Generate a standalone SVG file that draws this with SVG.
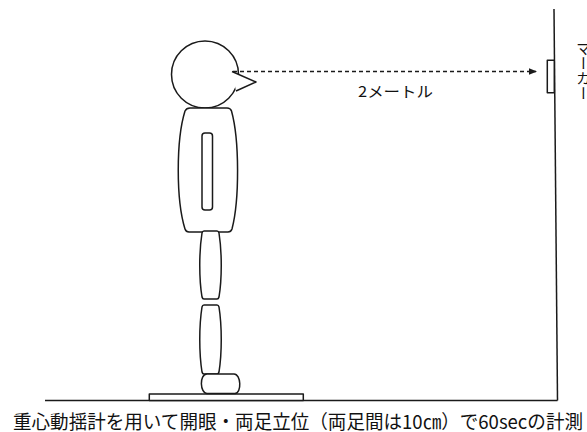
<svg xmlns="http://www.w3.org/2000/svg" width="587" height="432" viewBox="0 0 587 432">
  <defs>
    <style>
      .ln { fill: none; stroke: #1a1a1a; stroke-width: 1.5; stroke-linejoin: round; }
      .sh { fill: #ffffff; stroke: #1a1a1a; stroke-width: 1.5; stroke-linejoin: round; }
      .jp { font-family: "Noto Sans CJK JP", "Noto Sans", sans-serif; fill: #111111; }
      .dash { fill: none; stroke: #1a1a1a; stroke-width: 1.5; stroke-dasharray: 4 3; }
    </style>
    <marker id="arrow" viewBox="0 0 8 8" refX="7" refY="4" markerWidth="8" markerHeight="8" markerUnits="userSpaceOnUse" orient="auto">
      <path d="M0,0.8 L8,4 L0,7.2 Z" fill="#1a1a1a"/>
    </marker>
  </defs>
  <rect width="587" height="432" fill="#ffffff"/>

  <!-- room: wall and floor -->
  <g id="room">
    <line class="ln" x1="554" y1="9" x2="557.5" y2="400.5"/>
    <line class="ln" x1="45" y1="400.5" x2="557.5" y2="400.5"/>
  </g>

  <!-- force plate -->
  <g id="plate">
    <rect class="sh" x="149.3" y="394" width="154" height="6.5"/>
  </g>

  <!-- standing figure -->
  <g id="figure">
    <circle class="sh" cx="205" cy="74.5" r="33.5"/>
    <path class="sh" d="M232,71.5 L256,82 L236,91"/>
    <path class="sh" d="M190,108 L227,108 Q230.5,108 231.5,111 C239.5,140 239.5,200 232,229 Q231,232 228,232 L189,232 Q186,232 185,229 C176,200 176,140 185,111 Q186.5,108 190,108 Z"/>
    <rect class="sh" x="202" y="133" width="10.5" height="77" rx="3"/>
    <path class="sh" d="M204,231 L217,231 Q218.5,231 219,233 C222,252 222,279 219,297 Q218.5,299 217,299 L204,299 Q202.5,299 202,297 C199,279 199,252 202,233 Q202.5,231 204,231 Z"/>
    <path class="sh" d="M204,305 L217,305 Q218.5,305 219,307 C222,326 222,353 219,372 Q218.5,374 217,374 L204,374 Q202.5,374 202,372 C199,353 199,326 202,307 Q202.5,305 204,305 Z"/>
    <path class="sh" d="M207,374 L234,374 C241,374 242,393 235,393.5 L207,393.5 C200,393.5 199,374 207,374 Z"/>
  </g>

  <!-- marker on the wall -->
  <g id="marker">
    <rect class="sh" x="547.3" y="60.3" width="7" height="32.4"/>
    <text class="jp" x="583.5" y="41" font-size="15" writing-mode="vertical-rl">マーカー</text>
  </g>

  <!-- line of sight -->
  <g id="connectors">
    <line class="dash" x1="233" y1="71.5" x2="536" y2="71.5" marker-end="url(#arrow)"/>
    <text class="jp" x="358" y="97" font-size="15" textLength="75" lengthAdjust="spacingAndGlyphs">2メートル</text>
  </g>

  <!-- caption -->
  <g id="caption">
    <text class="jp" x="13" y="429" font-size="19" textLength="570" lengthAdjust="spacingAndGlyphs">重心動揺計を用いて開眼・両足立位（両足間は10㎝）で60secの計測</text>
  </g>
</svg>
